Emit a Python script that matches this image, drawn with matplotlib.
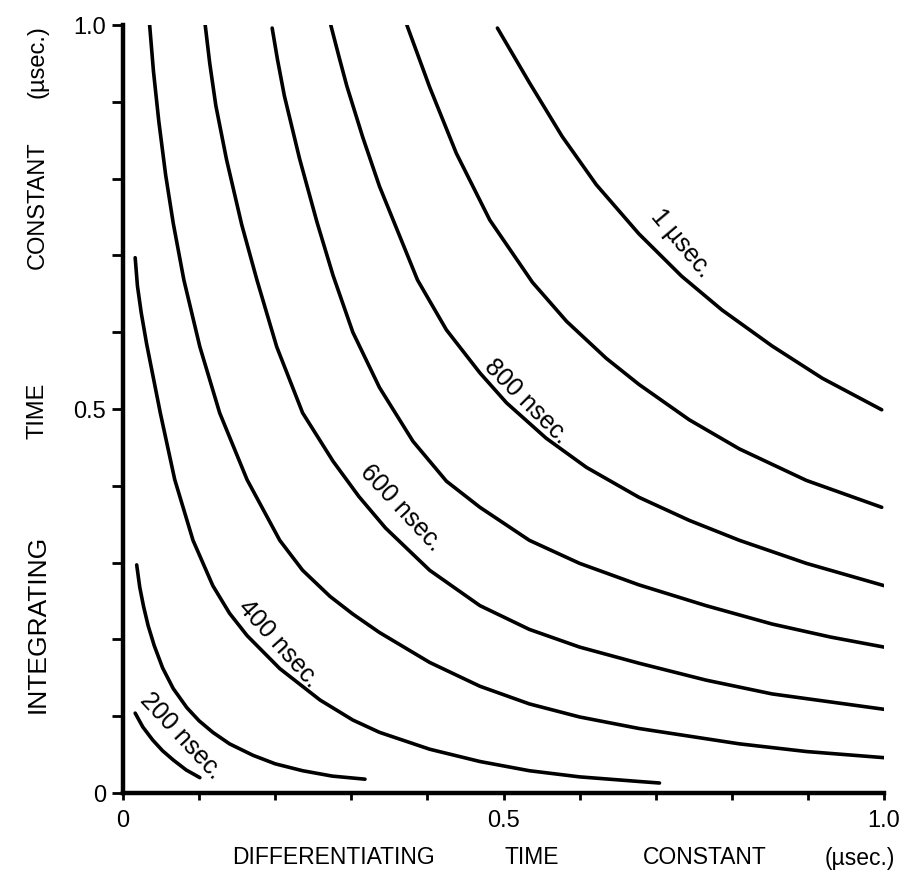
import matplotlib
matplotlib.use("Agg")
import matplotlib.pyplot as plt

# ── Data: curves of constant resolving time ─────────────────────────────────
# x = differentiating time constant (µsec), y = integrating time constant (µsec)
c200_x = [0.016, 0.026, 0.039, 0.052, 0.066, 0.083, 0.101]
c200_y = [0.104, 0.086, 0.069, 0.055, 0.043, 0.030, 0.020]

c300_x = [0.018, 0.022, 0.027, 0.033, 0.041, 0.052, 0.066, 0.084,
          0.100, 0.118, 0.140, 0.171, 0.200, 0.236, 0.275, 0.318]
c300_y = [0.297, 0.268, 0.243, 0.218, 0.192, 0.163, 0.136, 0.111,
          0.094, 0.079, 0.064, 0.049, 0.038, 0.029, 0.022, 0.018]

c400_x = [0.016, 0.019, 0.024, 0.031, 0.049, 0.068, 0.092, 0.118, 0.140, 0.163,
          0.206, 0.259, 0.302, 0.337, 0.403, 0.469, 0.534, 0.600, 0.678, 0.705]
c400_y = [0.697, 0.660, 0.625, 0.585, 0.495, 0.408, 0.329, 0.270, 0.234, 0.205,
          0.162, 0.121, 0.095, 0.079, 0.057, 0.041, 0.029, 0.021, 0.015, 0.013]

c500_x = [0.035, 0.040, 0.047, 0.056, 0.066, 0.080, 0.101, 0.127, 0.163, 0.206,
          0.236, 0.272, 0.302, 0.337, 0.403, 0.469, 0.534, 0.600, 0.678, 0.810,
          0.898, 1.0]
c500_y = [1.0, 0.940, 0.875, 0.805, 0.742, 0.668, 0.581, 0.495, 0.408, 0.329,
          0.290, 0.256, 0.233, 0.209, 0.170, 0.139, 0.116, 0.099, 0.084, 0.064,
          0.054, 0.046]

c600_x = [0.108, 0.114, 0.122, 0.136, 0.156, 0.176, 0.202, 0.236, 0.276, 0.310,
          0.345, 0.403, 0.469, 0.534, 0.600, 0.678, 0.766, 0.853, 1.0]
c600_y = [1.0, 0.950, 0.895, 0.825, 0.740, 0.668, 0.581, 0.495, 0.432, 0.386,
          0.345, 0.290, 0.244, 0.213, 0.190, 0.169, 0.147, 0.129, 0.109]

c700_x = [0.196, 0.203, 0.212, 0.232, 0.255, 0.276, 0.302, 0.337, 0.381, 0.425,
          0.469, 0.534, 0.600, 0.678, 0.766, 0.853, 0.930, 1.0]
c700_y = [0.996, 0.955, 0.908, 0.826, 0.743, 0.674, 0.600, 0.528, 0.458, 0.406,
          0.372, 0.329, 0.299, 0.271, 0.244, 0.220, 0.203, 0.190]

c800_x = [0.273, 0.284, 0.294, 0.315, 0.337, 0.387, 0.425, 0.469, 0.504,
          0.556, 0.609, 0.678, 0.744, 0.810, 0.898, 1.0]
c800_y = [1.0, 0.958, 0.921, 0.854, 0.790, 0.668, 0.603, 0.547, 0.508,
          0.462, 0.424, 0.385, 0.355, 0.329, 0.299, 0.270]

c900_x = [0.373, 0.403, 0.438, 0.482, 0.538, 0.583, 0.635, 0.678,
          0.744, 0.810, 0.898, 0.997]
c900_y = [1.0, 0.919, 0.833, 0.746, 0.665, 0.614, 0.566, 0.532,
          0.486, 0.448, 0.407, 0.372]

c1000_x = [0.492, 0.534, 0.577, 0.622, 0.678, 0.734, 0.787, 0.853, 0.919, 0.997]
c1000_y = [0.996, 0.925, 0.855, 0.792, 0.728, 0.673, 0.629, 0.582, 0.540, 0.499]

curves = [(c200_x, c200_y), (c300_x, c300_y), (c400_x, c400_y),
          (c500_x, c500_y), (c600_x, c600_y), (c700_x, c700_y),
          (c800_x, c800_y), (c900_x, c900_y), (c1000_x, c1000_y)]

# curve labels: text, centre (x, y), rotation
label_text = ["200 nsec.", "400 nsec.", "600 nsec.", "800 nsec.", "1 µsec."]
label_x = [0.076, 0.205, 0.366, 0.530, 0.733]
label_y = [0.074, 0.195, 0.371, 0.510, 0.716]
label_rot = [-47, -48, -47, -45, -50]

plt.rcParams["font.family"] = ["Liberation Sans", "DejaVu Sans"]

W, H = 919, 882
fig = plt.figure(figsize=(W / 100, H / 100), dpi=100)
ax = fig.add_axes([123 / W, 1 - 793 / H, (884 - 123) / W, (793 - 25) / H])

for xs, ys in curves:
    ax.plot(xs, ys, color="black", lw=2.6, solid_capstyle="round",
            solid_joinstyle="round")

for t, x, y, r in zip(label_text, label_x, label_y, label_rot):
    ax.text(x, y, t, rotation=r, ha="center", va="center",
            rotation_mode="anchor", fontsize=18)

ax.set_xlim(0, 1)
ax.set_ylim(0, 1)
ax.spines["top"].set_visible(False)
ax.spines["right"].set_visible(False)
for s in ("left", "bottom"):
    ax.spines[s].set_linewidth(3.2)

ticks = [i / 10 for i in range(11)]
tick_lbls = ["0", "", "", "", "", "0.5", "", "", "", "", "1.0"]
ax.set_xticks(ticks)
ax.set_xticklabels(tick_lbls, fontsize=17)
ax.set_yticks(ticks)
ax.set_yticklabels(tick_lbls, fontsize=17)
ax.tick_params(axis="y", direction="out", length=8, width=2, pad=4)
ax.tick_params(axis="x", direction="out", length=5, width=2, pad=7)

# axis titles, word by word as in the original
xl_words = ["DIFFERENTIATING", "TIME", "CONSTANT", "(µsec.)"]
xl_pos = [333, 532, 705, 860]
for w, px in zip(xl_words, xl_pos):
    fig.text(px / W, 1 - 858 / H, w, ha="center", va="center", fontsize=16.5)

yl_words = ["INTEGRATING", "TIME", "CONSTANT", "(µsec.)"]
yl_pos = [624, 411, 205, 62]
yl_size = [19, 17, 17, 17]
for w, py, fs in zip(yl_words, yl_pos, yl_size):
    fig.text(38 / W, 1 - py / H, w, ha="center", va="center",
             rotation=90, fontsize=fs)

fig.savefig("out.png", dpi=100)
